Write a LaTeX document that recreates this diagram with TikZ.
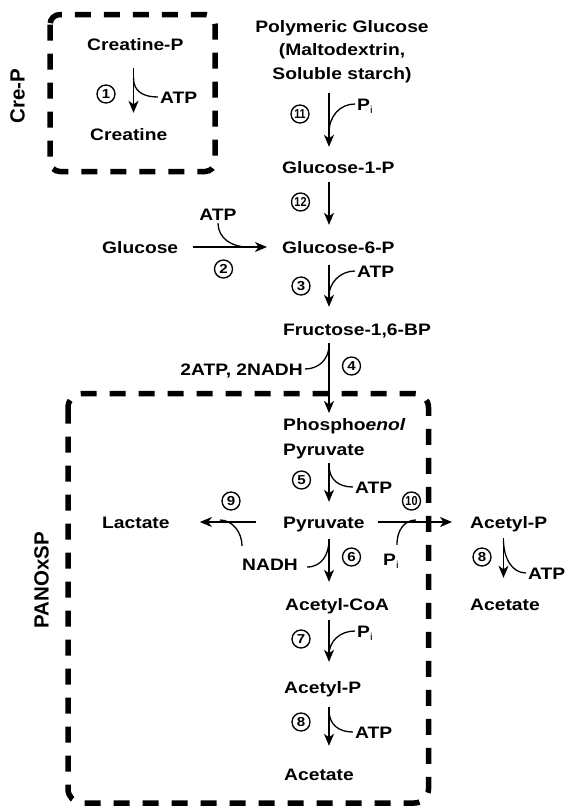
\documentclass[tikz,border=0pt]{standalone}
\usepackage{fontspec}
\usepackage{graphicx}
\setmainfont{Liberation Sans}[FakeStretch=1.16]
\newfontfamily\boxfont{Liberation Sans}
\usetikzlibrary{arrows.meta,calc}

\tikzset{
  metab/.style={inner sep=0pt, text height=12pt, text depth=0pt,
    font=\fontsize{16.6}{23}\selectfont\bfseries},
  metabml/.style={inner sep=0pt, font=\fontsize{16.6}{23.5}\selectfont\bfseries},
  enz/.style={circle, draw, line width=1.35pt, minimum size=18pt, inner sep=0pt,
    font=\fontsize{13}{13}\selectfont\bfseries},
  rxn/.style={line width=1.5pt, -{Stealth[length=12pt,width=10pt,inset=3.5pt]}},
  side/.style={line width=1.3pt},
  compart/.style={line width=5.5pt, dash pattern=on 16pt off 13pt, rounded corners=14pt},
  boxlabel/.style={rotate=90, inner sep=0pt, font=\boxfont\fontsize{20.5}{20.5}\selectfont\bfseries}
}
\newcommand{\Pinorg}{P\raisebox{-3pt}{\fontsize{10}{10}\selectfont\mdseries i}}
\newcommand{\twodig}[1]{\scalebox{0.72}[1]{#1}}

\begin{document}
\begin{tikzpicture}[x=1pt,y=-1pt]
  \useasboundingbox (0,0) rectangle (567,807);

  % compartments
  \draw[compart,rounded corners=10pt] (50,14.5) rectangle (215,171.5);
  \draw[compart] (68,393.5) rectangle (428.5,803);
  \node[boxlabel] (creLbl) at (17.5,96) {Cre-P};
  \node[boxlabel] (panLbl) at (41.5,580) {PANOxSP};

  % metabolites
  \node[metab,anchor=base west] (creP) at (87,50) {Creatine-P};
  \node[metab,anchor=base west] (cre) at (90,140) {Creatine};
  \node[metabml,align=center,anchor=north] (poly) at (342,20)
    {Polymeric Glucose\\(Maltodextrin,\\Soluble starch)};
  \node[metab,anchor=base west] (g1p) at (282,173) {Glucose-1-P};
  \node[metab,anchor=base west] (glc) at (102,253) {Glucose};
  \node[metab,anchor=base west] (g6p) at (282,253) {Glucose-6-P};
  \node[metab,anchor=base west] (fbp) at (283,335) {Fructose-1,6-BP};
  \node[metabml,align=left,anchor=north west,font=\fontsize{16.6}{25}\selectfont\bfseries]
    (pep) at (283,418) {Phospho\textit{enol}\\Pyruvate};
  \node[metab,anchor=base west] (pyr) at (283,528) {Pyruvate};
  \node[metab,anchor=base west] (lac) at (102,528) {Lactate};
  \node[metab,anchor=base west] (acpR) at (470,528) {Acetyl-P};
  \node[metab,anchor=base west] (aceR) at (470,610) {Acetate};
  \node[metab,anchor=base west] (acoa) at (285,610) {Acetyl-CoA};
  \node[metab,anchor=base west] (acp) at (284,693) {Acetyl-P};
  \node[metab,anchor=base west] (ace) at (284,780) {Acetate};

  % cofactors
  \node[metab,anchor=base west] (atp1) at (160,103) {ATP};
  \node[metab,anchor=base west] (pi11) at (357,110) {\Pinorg};
  \node[metab,anchor=base] (atp2) at (218,220) {ATP};
  \node[metab,anchor=base west] (atp3) at (357,277) {ATP};
  \node[metab,anchor=base east] (nadh4) at (303,375) {2ATP, 2NADH};
  \node[metab,anchor=base west] (atp5) at (355,493) {ATP};
  \node[metab,anchor=base west] (nadh) at (242,570) {NADH};
  \node[metab,anchor=base west] (pi10) at (383,565) {\Pinorg};
  \node[metab,anchor=base west] (atp8R) at (528,579) {ATP};
  \node[metab,anchor=base west] (pi7) at (357,637) {\Pinorg};
  \node[metab,anchor=base west] (atp8) at (355,738) {ATP};

  % enzyme numbers
  \foreach \nm/\lbl/\x/\y in {e1/1/106/94, e11/\twodig{11}/300/114, e12/\twodig{12}/300.5/202,
      e2/2/223.5/269, e3/3/301/286, e4/4/351.5/366, e5/5/301.5/480, e9/9/231/501,
      e10/\twodig{10}/411.5/501, e6/6/351.5/557, e8R/8/482/557, e7/7/301/639, e8/8/301/722}
    \node[enz] (\nm) at (\x,\y) {\lbl};

  % reaction axes
  \coordinate (ax) at (329,0);
  \coordinate (axC) at (133.5,0);
  \coordinate (axR) at (503.5,0);

  % main reactions
  \draw[rxn,shorten <=18pt,shorten >=15pt] (creP.south -| axC) -- (cre.north -| axC);
  \draw[rxn,shorten <=10pt,shorten >=14pt] (poly.south -| ax) -- (g1p.north -| ax);
  \draw[rxn,shorten <=9pt,shorten >=16pt] (g1p.south -| ax) -- (g6p.north -| ax);
  \draw[rxn,shorten <=15pt,shorten >=15pt] (glc.east) -- (g6p.west);
  \draw[rxn,shorten <=12pt,shorten >=16pt] (g6p.south -| ax) -- (fbp.north -| ax);
  \draw[rxn,shorten <=8pt,shorten >=5pt] (fbp.south -| ax) -- (pep.north -| ax);
  \draw[rxn,shorten <=4.5pt,shorten >=14pt] (pep.south -| ax) -- (pyr.north -| ax);
  \draw[rxn,shorten <=27pt,shorten >=30pt] (pyr.west) -- (lac.east);
  \draw[rxn,shorten <=13pt,shorten >=18pt] (pyr.east) -- (acpR.west);
  \draw[rxn,shorten <=11pt,shorten >=16pt] (pyr.south -| ax) -- (acoa.north -| ax);
  \draw[rxn,shorten <=10pt,shorten >=19pt] (acoa.south -| ax) -- (acp.north -| ax);
  \draw[rxn,shorten <=14pt,shorten >=22pt] (acp.south -| ax) -- (ace.north -| ax);
  \draw[rxn,shorten <=10pt,shorten >=20pt] (acpR.south -| axR) -- (aceR.north -| axR);

  % junctions on the reaction arrows
  \coordinate (j1) at (133.5,78);
  \coordinate (j11) at (329,133);
  \coordinate (j2) at (247,247);
  \coordinate (j3) at (329,296);
  \coordinate (j4) at (329,345);
  \coordinate (j5) at (329,465);
  \coordinate (j9) at (220,520);
  \coordinate (j10) at (416,520);
  \coordinate (j6) at (329,540);
  \coordinate (j8R) at (503.5,540);
  \coordinate (j7) at (329,655);
  \coordinate (j8) at (329,710);

  % cofactor curves
  \draw[side] (j1) .. controls +(0,14) and +(-14,0) .. ($(atp1.west)+(-2,0)$);
  \draw[side] ($(pi11.west)+(-2,0)$) .. controls +(-15,0) and +(0,-17) .. (j11);
  \draw[side,shorten <=3pt] (atp2.south) .. controls +(0,18) and +(-15,0) .. (j2);
  \draw[side] ($(atp3.west)+(-2,0)$) .. controls +(-15,0) and +(0,-13) .. (j3);
  \draw[side] (j4) .. controls +(0,15) and +(13,0) .. ($(nadh4.east)+(2,0)$);
  \draw[side] (j5) .. controls +(0,15) and +(-14,0) .. ($(atp5.west)+(-2,0)$);
  \draw[side] ($(nadh.north west)+(0,-12)$) .. controls +(0,-14) and +(12,0) .. (j9);
  \draw[side] ($(pi10.north)+(6,-8)$) .. controls +(0,-14) and +(-12,0) .. (j10);
  \draw[side] ($(nadh.east)+(9,3)$) .. controls +(15,0) and +(0,14) .. (j6);
  \draw[side] (j8R) .. controls +(0,18) and +(-14,0) .. ($(atp8R.west)+(-2,0)$);
  \draw[side] ($(pi7.west)+(-2,0)$) .. controls +(-15,0) and +(0,-14) .. (j7);
  \draw[side] (j8) .. controls +(0,15) and +(-14,0) .. ($(atp8.west)+(-2,0)$);
\end{tikzpicture}
\end{document}
